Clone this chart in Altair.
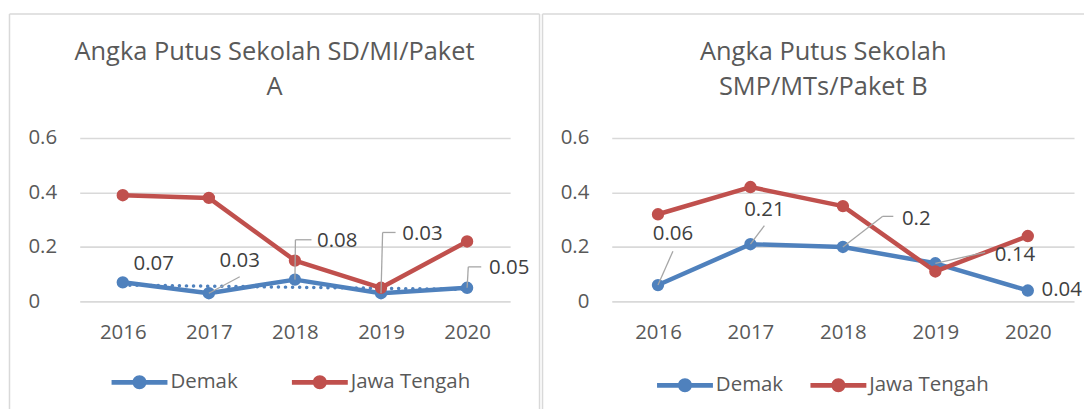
import altair as alt
import pandas as pd

# ---------------- data ----------------
years = [2016, 2017, 2018, 2019, 2020]
series_names = ["Demak", "Jawa Tengah"]
series_colors = ["#4f81bd", "#c0504d"]

sd_demak = [0.07, 0.03, 0.08, 0.03, 0.05]
sd_jateng = [0.39, 0.38, 0.15, 0.05, 0.22]
smp_demak = [0.06, 0.21, 0.20, 0.14, 0.04]
smp_jateng = [0.32, 0.42, 0.35, 0.11, 0.24]

sd_title = ["Angka Putus Sekolah SD/MI/Paket", "A"]
smp_title = ["Angka Putus Sekolah", "SMP/MTs/Paket B"]
y_ticks = [0, 0.2, 0.4, 0.6]

# ---------------- label placement (pixel offsets from the Demak point) ----------------
sd_label_dx = [31, 31, 42.5, 41.6, 42.2]
sd_label_dy = [-18.6, -32.8, -39.2, -59.8, -19.4]
# leader: (bend dx, bend dy, stub end dx) or None
sd_leaders = [None, (31, -16.5, 31), (0.5, -40, 16.6), (1.6, -61, 14.6), (1.2, -21, 14.2)]

smp_label_dx = [15, 14, 73.6, 80, 34]
smp_label_dy = [-51.3, -34.4, -28, -7.8, 0]
smp_leaders = [(15, -34, 15), (14, -18.7, 14), (40, -30.7, 50.6), (50, -11, 50), None]

FONT = "Open Sans"
TEXT_GRAY = "#595959"
LABEL_GRAY = "#404040"
GRID = "#d9d9d9"
BORDER = "#d9d9d9"
LEADER = "#a6a6a6"

LEGEND_PATH = ("M-2.55,-0.21H2.55V0.21H-2.55Z "
               "M-0.64,0A0.64,0.64,0,1,1,0.64,0A0.64,0.64,0,1,1,-0.64,0Z")


def make_df(demak, jateng):
    rows = []
    for s, vals in zip(series_names, [demak, jateng]):
        for y, v in zip(years, vals):
            rows.append({"series": s, "year": y, "value": v})
    return pd.DataFrame(rows)


def panel(demak, jateng, title, width, height, label_dx, label_dy, leaders,
          trend, y_align, y_pad, legend_x, legend_y, col_pad, borders):
    df = make_df(demak, jateng)
    base = alt.Chart(df)

    x_enc = alt.X("year:O",
                  scale=alt.Scale(type="point", padding=0.5, domain=years),
                  axis=alt.Axis(title=None, labelAngle=0, labelFontSize=20.5, labelFont=FONT,
                                labelColor=TEXT_GRAY, labelPadding=21, domain=False,
                                ticks=False, tickSize=0, grid=False))
    y_enc = alt.Y("value:Q",
                  scale=alt.Scale(domain=[0, 0.6], nice=False, zero=True),
                  axis=alt.Axis(title=None, values=y_ticks, format="~g", labelFontSize=20.5,
                                labelFont=FONT, labelColor=TEXT_GRAY, labelAlign=y_align,
                                labelPadding=y_pad, domain=False, ticks=False, tickSize=0,
                                grid=True, gridColor=GRID, gridWidth=1.6))
    color_scale = alt.Scale(domain=series_names, range=series_colors)
    legend = alt.Legend(orient="none", legendX=legend_x, legendY=legend_y,
                        direction="horizontal", title=None, labelFontSize=20.5,
                        labelFont=FONT, labelColor=TEXT_GRAY, symbolType=LEGEND_PATH,
                        symbolSize=484, symbolStrokeWidth=0, symbolOpacity=1,
                        labelOffset=20, columnPadding=col_pad, padding=0,
                        labelLimit=300)

    layers = []
    # panel borders (decoration)
    bdf = alt.Chart(pd.DataFrame({"k": [0]}))
    for (x1, y1, x2, y2) in borders:
        layers.append(bdf.mark_rule(color=BORDER, strokeWidth=1.5).encode(
            x=alt.value(x1), y=alt.value(y1), x2=alt.value(x2), y2=alt.value(y2)))

    for s, c in zip(series_names, series_colors):
        sub = base.transform_filter(alt.datum.series == s)
        layers.append(sub.mark_line(strokeWidth=4.5, strokeJoin="round", color=c).encode(
            x=x_enc, y=y_enc))
        if s == "Demak" and trend:
            layers.append(sub.transform_regression("year", "value").mark_line(
                strokeDash=[0.1, 7], strokeCap="round", strokeWidth=3.5,
                color=c).encode(x=x_enc, y=y_enc))
        layers.append(sub.mark_point(filled=True, size=154, opacity=1, shape="circle").encode(
            x=x_enc, y=y_enc,
            color=alt.Color("series:N", scale=color_scale, legend=legend)))

    dem = base.transform_filter(alt.datum.series == "Demak")
    for i, yr in enumerate(years):
        one = dem.transform_filter(alt.datum.year == yr)
        ld = leaders[i]
        if ld is not None:
            bx, by, sx = ld
            layers.append(one.mark_rule(color=LEADER, strokeWidth=1.3,
                                        x2Offset=bx, y2Offset=by).encode(
                x=x_enc, y=y_enc, x2="year:O", y2="value:Q"))
            if sx != bx:
                layers.append(one.mark_rule(color=LEADER, strokeWidth=1.3,
                                            xOffset=bx, yOffset=by,
                                            x2Offset=sx, y2Offset=by).encode(
                    x=x_enc, y=y_enc, x2="year:O", y2="value:Q"))
        layers.append(one.mark_text(font=FONT, fontSize=20.5, color=LABEL_GRAY,
                                    align="center", baseline="middle",
                                    dx=label_dx[i], dy=label_dy[i]).encode(
            x=x_enc, y=y_enc, text=alt.Text("value:Q", format="~g")))

    return alt.layer(*layers).properties(
        width=width, height=height,
        title=alt.Title(text=title, fontSize=25.5, font=FONT, color=TEXT_GRAY,
                        fontWeight="normal", anchor="middle", frame="bounds",
                        offset=-88, lineHeight=36))


left = panel(sd_demak, sd_jateng, sd_title, 432, 164, sd_label_dx, sd_label_dy, sd_leaders,
             True, "left", 52, 49, 234, 53,
             [(-70.5, -124.5, -70.5, 272), (-70.5, -124.5, 461.5, -124.5),
              (461.5, -124.5, 461.5, 272)])
right = panel(smp_demak, smp_jateng, smp_title, 464, 164, smp_label_dx, smp_label_dy,
              smp_leaders, False, "right", 23, 62.5, 237, 26,
              [(-69.5, -124.5, -69.5, 272), (-69.5, -124.5, 494, -124.5)])

chart = alt.hconcat(left, right, spacing=0).resolve_scale(
    x="independent", y="independent", color="independent"
).resolve_legend(color="independent").properties(
    padding={"left": 0, "top": 3.75, "right": -21, "bottom": 0}
).configure_view(stroke=None)

chart.save("out.html", embed_options={"renderer": "svg", "actions": False})
